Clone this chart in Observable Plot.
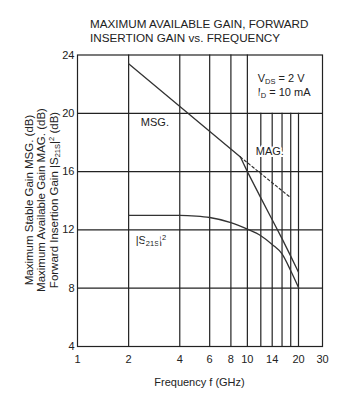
<!DOCTYPE html>
<html>
<head>
<meta charset="utf-8">
<script src="https://cdn.jsdelivr.net/npm/d3@7"></script>
<script src="https://cdn.jsdelivr.net/npm/@observablehq/plot@0.6"></script>
<style>
  html, body { margin: 0; padding: 0; background: #fff; }
</style>
</head>
<body>
<div id="chart"></div>
<script>
// ---- data ----
const titleLines = ["MAXIMUM AVAILABLE GAIN, FORWARD", "INSERTION GAIN vs. FREQUENCY"];
const yLabelLines = ["Maximum Stable Gain MSG. (dB)", "Maximum Available Gain MAG. (dB)", "Forward Insertion Gain |S21S|2 (dB)"];
const xLabel = "Frequency f (GHz)";
const xTicks = [1, 2, 4, 6, 8, 10, 14, 20, 30];
const yTicks = [4, 8, 12, 16, 20, 24];
const majorGridX = [2, 4, 6, 8, 10];
const minorGridX = [12, 14, 16, 18, 20];
const gridY = [8, 12, 16, 20];

// MSG (stable gain) straight segment
const msgFreq = [2, 9.1];
const msgGain = [23.4, 17.0];
// MAG beyond the kink
const magFreq = [9.1, 10, 12, 14, 16, 18, 20];
const magGain = [17.0, 16.0, 14.2, 12.7, 11.4, 10.2, 9.1];
// dashed MSG extension
const msgExtFreq = [9.1, 17.6];
const msgExtGain = [17.0, 14.3];
// |S21s|^2
const s21Freq = [2, 3, 4, 5, 6, 8, 10, 12, 14, 16, 18, 20];
const s21Gain = [13.0, 13.0, 13.0, 12.95, 12.85, 12.5, 12.05, 11.6, 11.0, 10.35, 9.2, 8.05];

// annotations
const annText = ["MSG.", "MAG.", "|S21S|2", "VDS = 2 V", "ID = 10 mA"];
const annFreq = [2.36, 11.2, 2.2, 11.5, 11.5];
const annGain = [19.35, 17.35, 11.25, 22.4, 21.45];

const zip = (xs, ys) => xs.map((x, i) => ({x, y: ys[i]}));
const ink = "#222";

const plot = Plot.plot({
  width: 352,
  height: 400,
  marginLeft: 77,
  marginRight: 30,
  marginTop: 54.5,
  marginBottom: 54,
  style: {fontFamily: "'Liberation Sans', Arial, sans-serif", fontSize: "11px", color: ink, background: "#fff", overflow: "visible"},
  x: {type: "log", domain: [1, 20, 30], range: [77, 298, 322], ticks: xTicks, tickFormat: d => String(d), tickSize: 0, tickPadding: 9, label: null},
  y: {type: "linear", domain: [4, 24], range: [346, 54.5], ticks: yTicks, tickFormat: d => String(d), tickSize: 0, tickPadding: 3, label: null},
  marks: [
    Plot.ruleX(majorGridX, {stroke: ink, strokeWidth: 1.2}),
    Plot.ruleX(minorGridX, {y1: 4, y2: 20, stroke: ink, strokeWidth: 1.2}),
    Plot.ruleY(gridY, {stroke: ink, strokeWidth: 1.2}),
    Plot.frame({stroke: ink, strokeWidth: 1.2}),
    Plot.line(zip(msgFreq, msgGain), {x: "x", y: "y", stroke: "#333", strokeWidth: 1.3}),
    Plot.line(zip(magFreq, magGain), {x: "x", y: "y", stroke: "#333", strokeWidth: 1.3}),
    Plot.line(zip(msgExtFreq, msgExtGain), {x: "x", y: "y", stroke: "#333", strokeWidth: 1.2, strokeDasharray: "2.5,2.5"}),
    Plot.line(zip(s21Freq, s21Gain), {x: "x", y: "y", stroke: "#333", strokeWidth: 1.3, curve: "monotone-x"}),
    Plot.text(annText.map((t, i) => ({t, x: annFreq[i], y: annGain[i]})), {x: "x", y: "y", text: "t", textAnchor: "start", fill: ink, stroke: "#fff", strokeWidth: 4, fontSize: 11})
  ]
});

document.getElementById("chart").appendChild(plot);
const svg = d3.select(plot);

// rich text helpers (subscripts / superscripts)
function rich(sel, str) {
  sel.text(null);
  const parts = [];
  if (str.includes("|S21S|2")) {
    const [a, b] = str.split("|S21S|2");
    parts.push([a + "|S", 0], ["21S", 1], ["|", 0], ["2", 2], [b, 0]);
  } else if (str.startsWith("VDS")) {
    parts.push(["V", 0], ["DS", 1], [str.slice(3), 0]);
  } else if (str.startsWith("ID")) {
    parts.push(["I", 0], ["D", 1], [str.slice(2), 0]);
  } else {
    parts.push([str, 0]);
  }
  let shift = 0;
  for (const [s, kind] of parts) {
    if (!s) continue;
    const target = kind === 1 ? 2 : kind === 2 ? -4 : 0;
    const t = sel.append("tspan").text(s).attr("dy", target - shift);
    if (kind) t.attr("font-size", "7.5px");
    shift = target;
  }
}

svg.selectAll("text").each(function() {
  const el = d3.select(this);
  if (el.select("tspan").empty()) {
    const s = el.text();
    if (s.includes("|S21S|2") || s.startsWith("VDS") || s.startsWith("ID")) rich(el, s);
  }
});

// titles and axis labels
const g = svg.append("g").attr("fill", ink).attr("stroke", "none").attr("font-size", 11);
titleLines.forEach((t, i) => {
  g.append("text").attr("x", 90).attr("y", 28 + i * 14).attr("text-anchor", "start").attr("font-size", 11.7).text(t);
});
g.append("text").attr("x", 199.5).attr("y", 385.5).attr("text-anchor", "middle").text(xLabel);
yLabelLines.forEach((t, i) => {
  const el = g.append("text")
    .attr("transform", `translate(${32.5 + i * 12.7},200) rotate(-90)`)
    .attr("text-anchor", "middle")
    .attr("font-size", 11.5);
  rich(el, t);
});
</script>
</body>
</html>
